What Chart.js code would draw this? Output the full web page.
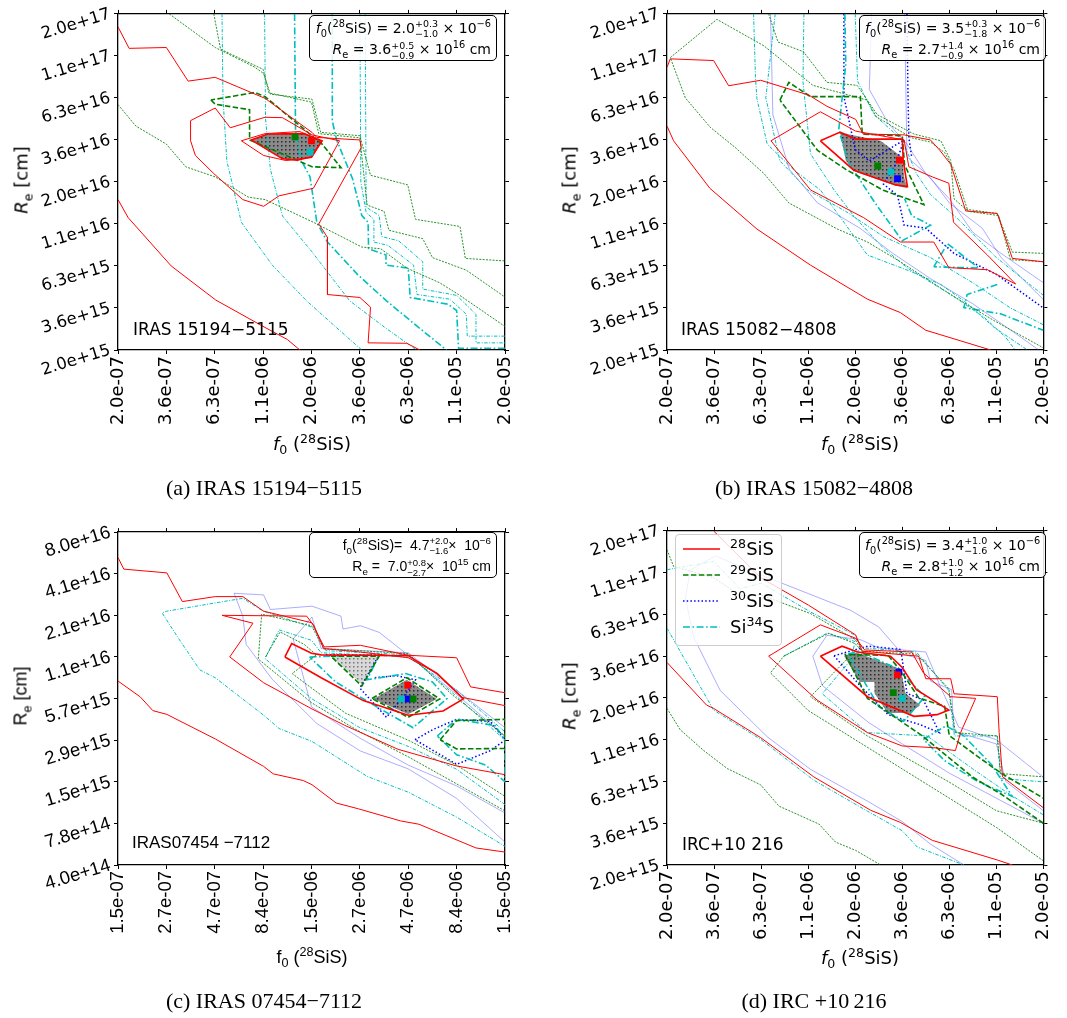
<!DOCTYPE html>
<html>
<head>
<title>SiS chi2 contours</title>
<script src="https://cdn.jsdelivr.net/npm/chart.js"></script>
<style>
    body {
        margin: 0;
        width: 1067px;
        height: 1018px;
        overflow: hidden;
        position: relative;
        background: #ffffff;
        font-family: 'DejaVu Sans', sans-serif;
        color: #000;
    }
    canvas { position: absolute; }
    .ytitle, .xtitle, .caption {
        position: absolute;
        white-space: nowrap;
        font-size: 18px;
    }
    .ytitle { transform: translate(-50%, -50%) rotate(-90deg); }
    .xtitle { transform: translate(-50%, -50%); }
    .caption {
        transform: translate(-50%, -50%);
        font-family: 'Liberation Serif', serif;
        font-size: 22px;
    }
    .note {
        position: absolute;
        box-sizing: border-box;
        border: 1px solid #000;
        border-radius: 5px;
        background: rgba(255,255,255,0.85);
        font-size: 14px;
        line-height: 20px;
        text-align: right;
        padding: 2px 5px 0 5px;
        white-space: nowrap;
    }
    .star {
        position: absolute;
        transform: translateY(-50%);
        font-size: 17px;
        white-space: nowrap;
    }
    .sans { font-family: 'Liberation Sans', Arial, sans-serif; }
    sub, sup { font-size: 0.7em; line-height: 0; }
    .ss {
        display: inline-block;
        vertical-align: -0.45em;
        font-size: 0.68em;
        line-height: 1.05;
        text-align: left;
    }
    .ss span { display: block; }
    .legend {
        position: absolute;
        box-sizing: border-box;
        border: 1px solid #cccccc;
        border-radius: 4px;
        background: rgba(255,255,255,0.8);
        font-size: 18px;
    }
    .legend .row { position: absolute; left: 0; width: 100%; height: 24px; }
    .legend svg { position: absolute; left: 6px; top: 7px; }
    .legend span { position: absolute; right: 7px; top: 0; line-height: 24px; }
</style>
</head>
<body>
<canvas id="panelA" width="530" height="470" style="left:0px;top:0px"></canvas>
<canvas id="panelB" width="518" height="470" style="left:549px;top:0px"></canvas>
<canvas id="panelC" width="530" height="470" style="left:0px;top:517px"></canvas>
<canvas id="panelD" width="518" height="470" style="left:549px;top:517px"></canvas>

<div class="ytitle" style="left:21px;top:180px"><i>R</i><sub>e</sub> [cm]</div>
<div class="ytitle" style="left:569px;top:180px"><i>R</i><sub>e</sub> [cm]</div>
<div class="ytitle sans" style="left:21px;top:696px">R<sub>e</sub> [cm]</div>
<div class="ytitle" style="left:569px;top:696px"><i>R</i><sub>e</sub> [cm]</div>

<div class="xtitle" style="left:312px;top:443px"><i>f</i><sub>0</sub> (<sup>28</sup>SiS)</div>
<div class="xtitle" style="left:860px;top:443px"><i>f</i><sub>0</sub> (<sup>28</sup>SiS)</div>
<div class="xtitle sans" style="left:312px;top:957px">f<sub>0</sub> (<sup>28</sup>SiS)</div>
<div class="xtitle" style="left:860px;top:957px"><i>f</i><sub>0</sub> (<sup>28</sup>SiS)</div>

<div class="note" style="left:309px;top:15px;width:188px;height:46px">
    <i>f</i><sub>0</sub>(<sup>28</sup>SiS) = 2.0<span class="ss"><span>+0.3</span><span>&minus;1.0</span></span> &times; 10<sup>&minus;6</sup><br>
    <i>R</i><sub>e</sub> = 3.6<span class="ss"><span>+0.5</span><span>&minus;0.9</span></span> &times; 10<sup>16</sup> cm
</div>
<div class="note" style="left:859px;top:15px;width:187px;height:46px">
    <i>f</i><sub>0</sub>(<sup>28</sup>SiS) = 3.5<span class="ss"><span>+0.3</span><span>&minus;1.8</span></span> &times; 10<sup>&minus;6</sup><br>
    <i>R</i><sub>e</sub> = 2.7<span class="ss"><span>+1.4</span><span>&minus;0.9</span></span> &times; 10<sup>16</sup> cm
</div>
<div class="note sans" style="left:309px;top:532px;width:188px;height:46px">
    f<sub>0</sub>(<sup>28</sup>SiS)= &nbsp;4.7<span class="ss"><span>+2.0</span><span>&minus;1.6</span></span>&times; &nbsp;10<sup>&minus;6</sup><br>
    R<sub>e</sub> = &nbsp;7.0<span class="ss"><span>+0.8</span><span>&minus;2.7</span></span>&times; &nbsp;10<sup>15</sup> cm
</div>
<div class="note" style="left:859px;top:532px;width:187px;height:46px">
    <i>f</i><sub>0</sub>(<sup>28</sup>SiS) = 3.4<span class="ss"><span>+1.0</span><span>&minus;1.6</span></span> &times; 10<sup>&minus;6</sup><br>
    <i>R</i><sub>e</sub> = 2.8<span class="ss"><span>+1.0</span><span>&minus;1.2</span></span> &times; 10<sup>16</sup> cm
</div>

<div class="star" style="left:133px;top:329px">IRAS 15194&minus;5115</div>
<div class="star" style="left:681px;top:329px">IRAS 15082&minus;4808</div>
<div class="star sans" style="left:132px;top:843px">IRAS07454 &minus;7112</div>
<div class="star" style="left:682px;top:844px">IRC+10 216</div>

<div class="legend" style="left:675px;top:534px;width:107px;height:112px">
    <div class="row" style="top:2px"><svg width="40" height="10"><line x1="1" y1="5" x2="38" y2="5" stroke="#ff0000" stroke-width="1.6"/></svg><span><sup>28</sup>SiS</span></div>
    <div class="row" style="top:28px"><svg width="40" height="10"><line x1="1" y1="5" x2="38" y2="5" stroke="#008000" stroke-width="1.6" stroke-dasharray="5.5 2.4"/></svg><span><sup>29</sup>SiS</span></div>
    <div class="row" style="top:54px"><svg width="40" height="10"><line x1="1" y1="5" x2="38" y2="5" stroke="#0000ff" stroke-width="1.6" stroke-dasharray="1.5 2.2"/></svg><span><sup>30</sup>SiS</span></div>
    <div class="row" style="top:80px"><svg width="40" height="10"><line x1="1" y1="5" x2="38" y2="5" stroke="#00bfbf" stroke-width="1.6" stroke-dasharray="7 2.5 1.6 2.5"/></svg><span>Si<sup>34</sup>S</span></div>
</div>

<div class="caption" style="left:264px;top:488px">(a) IRAS 15194&minus;5115</div>
<div class="caption" style="left:814px;top:488px">(b) IRAS 15082&minus;4808</div>
<div class="caption" style="left:264px;top:1001px">(c) IRAS 07454&minus;7112</div>
<div class="caption" style="left:814px;top:1001px">(d) IRC +10&#8201;216</div>

<script>
// tick labels; contour points are given in tick-index units (0..8) of the log grid
const fTicks = ['2.0e-07', '3.6e-07', '6.3e-07', '1.1e-06', '2.0e-06', '3.6e-06', '6.3e-06', '1.1e-05', '2.0e-05'];
const rTicks = ['2.0e+15', '3.6e+15', '6.3e+15', '1.1e+16', '2.0e+16', '3.6e+16', '6.3e+16', '1.1e+17', '2.0e+17'];
const fTicksC = ['1.5e-07', '2.7e-07', '4.7e-07', '8.4e-07', '1.5e-06', '2.7e-06', '4.7e-06', '8.4e-06', '1.5e-05'];
const rTicksC = ['4.0e+14', '7.8e+14', '1.5e+15', '2.9e+15', '5.7e+15', '1.1e+16', '2.1e+16', '4.1e+16', '8.0e+16'];

// best fits, order: 28SiS, 29SiS, 30SiS, Si34S
const bestA = [[4.0, 4.98], [3.66, 5.07], null, [3.97, 4.71]];
const bestB = [[4.94, 4.52], [4.48, 4.38], [4.9, 4.08], [4.76, 4.24]];
const bestC = [[5.99, 4.32], [6.1, 3.99], [6.0, 3.99], [5.85, 3.99]];
const bestD = [[4.9, 4.55], [4.81, 4.13], [4.93, 4.62], [5.0, 3.99]];

// ---- (a) IRAS 15194-5115
const aGray = [[2.75,5.0],[3.1,5.14],[3.85,5.15],[4.22,4.98],[4.0,4.6],[3.7,4.52],[3.4,4.55],[2.75,5.0]];
const aRed1 = [[0,3.58],[0.21,3.15],[1.1,2.0],[2.02,1.19],[2.97,0.58],[3.5,0.25],[3.76,0]];
const aRed2 = [[0,7.69],[0.23,7.18],[1.0,7.2],[1.45,6.4],[2.01,6.49],[3.04,5.99],[4.01,5.18],[4.11,5.06],[5.0,5.0],[5.03,4.82],[4.15,3.0],[4.33,2.68],[4.33,1.32],[5.0,1.25],[5.22,1.02],[5.17,0.17],[5.97,0.16],[6.24,0]];
const aRed3 = [[1.5,5.46],[2.01,5.76],[2.32,5.29],[3.04,5.54],[3.4,5.53],[4.01,5.12],[4.58,4.98],[4.04,3.85],[3.33,3.67],[3.01,3.42],[2.58,3.58],[1.98,4.2],[1.6,4.63],[1.5,4.98],[1.5,5.46]];
const aRed4 = [[2.55,4.98],[3.01,4.63],[3.47,4.51],[4.01,4.58],[4.2,4.96],[3.76,5.2],[3.04,5.15],[2.55,4.98]];
const aGreenD = [[1.92,5.95],[2.01,5.85],[2.72,5.72],[2.72,5.0],[3.7,4.52],[4.01,4.36],[4.61,4.34],[4.22,4.9],[4.01,5.1],[3.04,6.03],[2.83,6.13],[1.92,5.95]];
const aGreen1 = [[1.06,8],[2.01,7.2],[2.15,7.12],[2.83,6.73],[3.01,6.58],[3.15,6.09],[4.01,5.97],[4.19,5.18],[5.0,5.1],[5.22,4.16],[5.99,3.93],[6.15,3.11],[7.07,2.94],[7.18,2.18],[8,2.12]];
const aGreen2 = [[1.98,8],[2.12,7.16],[3.0,6.68],[3.12,6.12],[4.0,5.9],[4.15,5.15],[5.0,5.05],[5.15,3.45],[5.5,3.3],[5.6,2.85],[6.3,2.65],[6.5,2.2],[7.2,1.9],[8,1.26]];
const aGreen3 = [[0,5.84],[0.37,5.33],[1.0,4.9],[1.4,4.36],[2.01,4.12],[2.69,3.64],[3.04,3.58],[4.04,3.04],[5.04,2.45],[5.43,2.41],[5.97,1.95],[6.65,1.6],[7.04,1.32],[8,0.56]];
const aCyan1 = [[2.15,8],[2.17,6.0],[2.25,4.5],[2.55,3.04],[3.19,2.02],[3.9,1.17],[4.5,0.55],[5.04,0]];
const aCyan2 = [[3.03,8],[3.05,5.5],[3.15,4.3],[3.4,3.19],[4.0,2.35],[4.79,1.17],[5.5,0.55],[6.17,0]];
const aCyan3 = [[3.65,8],[3.67,5.21],[3.79,4.51],[3.97,4.12],[4.11,3.04],[4.33,2.57],[4.95,1.8],[5.55,1.17],[6.2,0.55],[6.79,0]];
const aCyan4 = [[4.43,8],[4.43,5.45],[4.52,5.0],[4.85,4.07],[5.04,3.2],[5.17,3.04],[5.18,2.41],[5.54,2.26],[5.54,2.02],[6.0,1.95],[6.04,1.25],[6.82,1.09],[7.0,0.94],[7.04,0.04],[8,0.04]];
const aCyan5 = [[5.0,8],[5.02,4.0],[5.13,3.27],[5.29,3.11],[5.29,2.57],[5.58,2.49],[6.11,2.02],[6.18,1.32],[6.86,1.21],[7.2,0.85],[7.22,0.33],[8,0.33]];
const aCyan6 = [[5.11,8],[5.13,3.4],[5.4,3.2],[5.45,2.7],[5.8,2.6],[6.3,2.1],[6.3,1.45],[7.0,1.3],[7.4,0.85],[7.4,0.17],[8,0.17]];

// ---- (b) IRAS 15082-4808
const bGray = [[3.67,5.21],[3.83,5.14],[4.54,4.98],[5.0,4.59],[5.04,4.12],[5.11,3.85],[4.82,3.93],[4.01,4.24],[3.8,4.51],[3.67,5.21]];
const bRed1 = [[0,5.33],[0.14,4.98],[0.91,3.85],[1.91,2.88],[3.05,2.02],[4.26,1.21],[4.96,0.89],[5.5,0.47],[6.88,0]];
const bRed2 = [[0,6.73],[0.07,6.93],[0.99,6.89],[1.31,6.29],[1.99,6.42],[3.01,6.07],[3.4,5.8],[4.01,5.49],[4.17,5.14],[5.04,5.12],[5.6,5.0],[5.8,4.75],[6.03,4.42],[6.35,3.31],[7.02,3.25],[7.34,2.18],[8,2.1]];
const bRed3 = [[2.21,4.98],[3.26,5.67],[4.01,5.21],[5.04,5.0],[5.14,4.36],[5.64,4.12],[5.99,3.97],[6.09,3.04],[6.81,2.26],[7.41,1.57],[6.81,1.91],[5.99,1.96],[5.67,2.57],[4.96,2.57],[4.18,3.15],[3.05,3.81],[2.21,4.98]];
const bRed4 = [[3.26,4.98],[3.67,5.18],[4.01,5.02],[5.0,5.02],[5.02,4.51],[5.11,3.89],[4.86,3.93],[3.97,4.28],[3.26,4.98]];
const bGreenD = [[2.4,5.95],[2.59,6.37],[3.05,6.03],[4.11,6.03],[4.15,5.14],[5.0,5.1],[5.05,4.4],[5.46,3.46],[4.6,3.8],[3.8,4.3],[3.2,4.75],[2.4,5.95]];
const bGreen1 = [[8,2.1],[7.3,2.15],[7.05,3.2],[6.4,3.3],[6.1,4.3],[5.9,4.7],[5.6,4.95],[5.2,5.05],[4.45,5.55],[4.25,5.95],[3.1,6.3],[2.06,7.24],[1.06,7.87],[0.07,6.96],[0.39,6.0],[0.92,5.3],[1.45,4.82],[2.06,4.2],[2.59,3.5],[3.62,2.88],[4.26,2.57],[4.96,2.1],[6.03,1.32],[6.95,0.7],[8,0.05]];
const bGreen2 = [[2.16,8],[2.36,7.33],[2.9,7.1],[3.4,6.37],[4.04,6.3],[4.47,5.6],[5.25,5.14],[5.82,4.98],[6.03,4.51],[6.1,3.6],[6.35,3.35],[7.02,3.25],[7.34,2.33],[8,2.3]];
const bCyan1 = [[1.84,8],[1.88,6.5],[1.91,5.99],[2.13,4.9],[2.7,4.28],[3.26,3.81],[3.76,3.04],[4.26,2.26],[5.18,1.87],[5.82,1.56],[6.31,1.17],[6.95,0.54],[7.66,0]];
const bCyan2 = [[2.91,8],[2.89,6.38],[3.05,4.67],[3.55,3.81],[3.97,3.19],[4.54,2.49],[5.11,1.95],[6.03,1.32],[6.74,0.78],[7.2,0.3],[7.4,0]];
const bCyan3 = [[3.78,8],[3.8,6.8],[3.65,5.24],[3.86,4.46],[4.41,3.52],[5.0,2.6],[5.6,2.97],[5.2,3.2],[5.05,3.6]];
const bCyan4 = [[5.67,1.98],[5.96,2.53],[6.63,1.95],[5.67,1.98]];
const bCyan5 = [[7.02,1.56],[6.38,1.32],[6.31,1.01],[7.09,0.86],[8,0.47]];
const bCyan6 = [[4.0,8],[4.05,6.4],[4.4,5.6],[5.0,5.0],[5.3,4.2],[5.6,3.7],[6.2,3.1],[7.0,2.2],[8,1.3]];
const bCyan7 = [[2.3,8],[2.1,6.0],[2.4,4.5],[3.0,3.8],[3.8,3.3],[4.6,2.7],[5.6,2.2],[6.5,1.6],[7.3,1.0],[8,0.6]];
const bBlue1 = [[2.2,8],[2.25,5.6],[2.6,4.3],[3.2,3.5],[4.1,2.9],[4.8,2.3],[5.6,1.7],[6.5,1.1],[7.4,0.4],[7.9,0]];
const bBlue2 = [[5.05,8],[5.1,4.6],[5.6,4.1],[6.0,3.5],[6.7,2.9],[7.1,2.2],[8,1.2]];
const bBlue3 = [[4.35,8],[4.3,6.2],[4.7,5.4],[5.1,4.9],[5.5,4.2],[6.0,3.6],[6.5,2.8],[7.1,2.3],[8,1.6]];
const bBlueD1 = [[3.76,8],[3.76,6.03],[4.0,4.77],[4.3,4.5],[5.04,5.0],[4.85,4.4],[4.6,3.95],[4.9,3.68],[5.04,2.97],[5.5,2.9],[6.1,2.3],[7.0,1.8],[8,1.0]];
const bBlueD2 = [[5.1,8],[5.12,6.2],[5.14,5.06],[5.2,4.6]];

// ---- (c) IRAS 07454-7112
const cGray = [[5.28,3.99],[5.97,4.45],[6.59,3.99],[6.0,3.62],[5.28,3.99]];
const cLight = [[4.42,5.0],[5.38,5.0],[5.04,4.34],[4.42,5.0]];
const cRed1 = [[0,4.42],[0.46,4.04],[0.72,3.71],[1.01,3.62],[2.01,3.03],[3.01,2.37],[3.21,2.19],[3.83,2.03],[4.01,1.93],[4.51,1.49],[4.97,1.35],[5.84,1.06],[6.22,0.98],[7.4,0.41],[8,0.31]];
const cRed2 = [[0,7.39],[0.12,7.11],[1.01,7.02],[1.33,6.33],[2.01,6.45],[2.58,6.45],[3.01,6.1],[4.01,5.82],[4.26,5.24],[5.01,5.28],[6.0,5.04],[7.0,4.98],[7.29,4.28],[8,4.14]];
const cRed3 = [[8,2.17],[7.0,2.38],[5.79,2.78],[4.68,3.36],[4.01,3.75],[3.01,4.38],[2.31,5.0],[2.79,5.81],[2.15,6.0],[3.9,5.98],[4.05,5.75],[4.25,5.2],[5.0,5.12],[6.0,4.98],[6.6,4.6],[7.1,4.03],[8,3.83]];
const cRed4 = [[3.45,5.0],[3.59,5.32],[4.0,5.09],[4.2,5.05],[6.0,5.03],[6.6,4.6],[7.14,3.99],[6.72,3.7],[6.0,3.6],[5.07,3.95],[4.2,4.5],[3.45,5.0]];
const cGreenD1 = [[5.25,4.0],[5.97,4.5],[6.65,3.99],[6.0,3.55],[5.25,4.0]];
const cGreenD2 = [[4.4,5.02],[5.4,5.02],[5.04,4.3],[4.4,5.02]];
const cGreenD3 = [[6.66,3.01],[7.0,3.47],[8,3.5],[8,2.8],[7.0,2.79],[6.66,3.01]];
const cGreen1 = [[2.97,6.03],[2.9,4.95],[4.0,3.9],[5.0,3.2],[6.0,2.6],[7.0,1.95],[8,1.3]];
const cGreen2 = [[3.0,6.02],[4.0,5.75],[4.25,5.2],[6.0,5.08],[6.9,4.1],[8,3.1]];
const cGreen3 = [[3.05,5.0],[3.35,5.6],[3.85,5.3],[4.1,5.05],[3.6,4.6],[4.7,3.65],[6.0,3.0],[7.0,2.4],[8,1.65]];
const cCyan1 = [[8,3.0],[7.0,4.05],[6.0,5.05],[4.3,5.15],[4.05,5.7],[3.0,6.1],[2.58,6.41],[1.01,6.1],[0.91,6.06],[1.26,5.43],[1.69,4.69],[2.01,4.5],[3.01,3.6],[3.33,3.28],[4.01,2.97],[5.15,2.13],[6.0,1.75],[7.0,1.15],[8,0.45]];
const cCyan2 = [[8,1.45],[7.0,2.3],[6.0,2.85],[5.0,3.3],[4.0,4.0],[3.04,4.96],[3.33,5.65],[4.0,5.4],[4.2,5.1],[6.0,5.0],[7.0,4.2],[8,3.2]];
const cCyan3 = [[3.96,5.0],[5.4,5.05],[5.15,4.45],[5.95,4.6],[6.5,4.4],[6.8,4.0],[6.1,3.3],[5.2,3.9],[4.5,4.4],[3.96,5.0]];
const cCyan4 = [[6.6,3.1],[7.0,3.5],[7.8,3.35],[8,3.0],[8,2.0],[7.6,2.4],[7.0,2.65],[6.6,3.1]];
const cBlue1 = [[8,3.09],[7.0,4.1],[6.0,5.04],[5.4,5.59],[5.01,5.75],[4.65,5.67],[4.61,5.98],[4.01,6.22],[3.15,6.14],[3.01,6.49],[2.4,6.53],[2.58,5.98],[2.65,5.3],[3.19,4.46],[4.11,3.4],[5.01,2.74],[6.0,2.31],[7.0,1.6],[8,0.55]];
const cBlue2 = [[8,1.25],[7.0,1.9],[6.0,2.4],[5.0,3.05],[4.0,3.8],[3.62,5.43],[4.01,5.96],[4.2,5.2],[6.0,5.1],[8,3.3]];
const cBlueD1 = [[4.3,5.05],[5.4,5.05],[5.0,4.25],[5.55,3.55],[6.0,4.2],[6.15,4.45],[5.75,4.55],[5.3,4.5]];
const cBlueD2 = [[6.14,3.01],[6.5,3.25],[7.0,3.5],[7.7,3.45],[8,3.0],[7.7,2.75],[7.0,2.42],[6.14,3.01]];

// ---- (d) IRC+10 216
const dGray = [[3.76,5.01],[4.03,5.09],[4.97,4.69],[5.07,4.11],[5.38,3.83],[5.17,3.64],[4.69,3.64],[4.41,4.11],[4.41,4.38],[4.1,4.38],[3.76,5.01]];
const dRed1 = [[0,4.85],[0.84,3.83],[0.99,3.75],[1.99,3.05],[3.12,2.11],[4.33,1.31],[4.96,1.02],[5.64,0.59],[7.02,0.12],[7.34,0]];
const dRed2 = [[0.99,8],[1.99,6.88],[3.01,6.22],[4.01,5.51],[4.15,5.12],[5.35,5.0],[5.5,4.46],[6.03,4.46],[6.1,4.1],[7.02,4.03],[7.06,3.17],[7.13,2.11],[8,1.37]];
const dRed3 = [[2.16,5.0],[3.26,5.75],[4.01,5.43],[4.2,5.15],[5.2,5.1],[5.45,4.6],[6.03,4.03],[6.56,3.99],[6.24,3.17],[6.13,2.74],[5.67,2.81],[5.0,2.85],[4.26,3.17],[3.19,3.95],[2.16,5.0]];
const dRed4 = [[3.26,5.0],[3.72,5.24],[4.05,5.1],[4.75,5.0],[5.0,4.73],[5.3,4.2],[5.99,3.71],[5.74,3.6],[5.25,3.56],[4.26,4.03],[3.26,5.0]];
const dGreen1 = [[0,3.75],[0.28,3.24],[0.78,2.74],[1.28,2.31],[1.99,1.92],[2.38,1.41],[3.23,0.98],[3.58,0.55],[4.01,0.35],[4.54,0]];
const dGreen2 = [[0,7.55],[0.14,7.15],[0.99,6.88],[1.56,6.45],[1.99,6.47],[3.05,6.02],[4.0,5.4],[4.15,5.12],[5.3,5.05],[5.99,4.22],[6.13,3.17],[7.02,3.09],[7.09,2.19],[8,2.11]];
const dGreen3 = [[2.48,5.0],[3.44,5.55],[4.0,5.3],[4.2,5.05],[3.8,4.9],[3.05,4.03],[4.26,3.09],[5.0,2.62],[5.99,1.99],[7.0,1.3],[8,1.0]];
const dGreen4 = [[8,0.1],[7.0,0.9],[6.0,1.6],[5.0,2.3],[4.0,3.0],[3.0,3.7],[2.2,4.6],[2.48,5.0]];
const dGreenD = [[8,1.0],[7.1,1.7],[6.5,2.1],[5.43,3.09],[4.26,3.99],[3.79,5.04],[4.7,5.02],[5.0,4.6],[5.35,4.0],[5.9,3.8],[6.0,3.1],[6.6,2.6],[7.1,2.2],[8,1.6]];
const dCyan1 = [[0,7.07],[0.99,7.27],[1.56,6.61],[2.0,6.75],[3.05,6.06],[4.0,5.5],[4.15,5.2],[5.3,5.1],[5.99,4.18],[6.11,3.09],[7.02,3.09],[7.09,2.07],[8,1.99]];
const dCyan2 = [[0,5.67],[0.99,3.71],[1.99,3.01],[3.12,2.03],[4.26,1.29],[5.0,0.82],[5.32,0.43],[6.31,0]];
const dCyan3 = [[2.48,5.0],[3.4,5.55],[4.0,5.35],[3.9,4.9],[3.3,4.1],[4.26,3.17],[5.53,3.09],[6.5,2.3],[7.3,1.68],[8,1.2]];
const dCyan4 = [[3.85,5.05],[4.07,5.12],[4.9,4.7],[5.48,4.03],[5.03,3.44],[4.5,3.8],[3.85,5.05]];
const dCyan5 = [[5.45,3.01],[5.93,3.33],[6.3,3.1],[6.9,2.4],[7.34,1.64],[6.6,2.0],[5.9,2.5],[5.45,3.01]];
const dBlue1 = [[8,1.3],[7.2,2.0],[7.0,2.9],[6.1,3.2],[6.05,4.2],[5.6,4.4],[5.5,4.9],[5.0,5.05],[4.5,5.7],[3.9,6.1],[3.0,6.5],[2.1,6.9],[1.03,7.4],[0.5,7.07],[0.39,6.4],[0.57,5.45],[1.13,4.18],[2.13,3.07],[3.05,2.29],[4.26,1.53],[5.0,1.04],[5.6,0.5],[6.31,0]];
const dBlue2 = [[8,1.0],[7.0,1.6],[6.0,2.2],[5.0,2.9],[4.3,3.4],[3.3,4.3],[3.1,5.0],[3.4,5.5],[4.1,5.4],[4.5,5.2],[5.5,5.1],[5.8,4.3],[6.2,3.3],[7.0,3.0],[8,2.1]];
const dBlueD = [[3.55,5.01],[4.27,5.24],[4.97,5.16],[5.1,4.11],[5.45,3.95],[5.79,3.17],[5.38,3.36],[4.7,3.6],[4.1,4.3],[3.55,5.01]];

const lineStyles = {
    r1: {borderColor: '#ff0000', borderWidth: 1.6, borderDash: []},
    r0: {borderColor: '#ff0000', borderWidth: 1.0, borderDash: []},
    g1: {borderColor: '#008000', borderWidth: 1.6, borderDash: [5.5, 2.4]},
    g0: {borderColor: 'rgba(0,128,0,0.85)', borderWidth: 1.0, borderDash: [2, 1.3]},
    b1: {borderColor: '#0000ff', borderWidth: 1.5, borderDash: [1.5, 2.2]},
    b0: {borderColor: 'rgba(70,70,255,0.45)', borderWidth: 1.0, borderDash: []},
    c1: {borderColor: '#00bfbf', borderWidth: 1.6, borderDash: [7, 2.5, 1.6, 2.5]},
    c0: {borderColor: '#00bfbf', borderWidth: 1.0, borderDash: [3.5, 1.5, 1, 1.5]}
};
const bestColors = ['#ff0000', '#008000', '#0000ff', '#00bfbf'];

function toXY(arr) {
    return arr.map(p => ({x: p[0], y: p[1]}));
}

function dotPattern(ctx, bg, dot) {
    const tile = document.createElement('canvas');
    tile.width = 4; tile.height = 4;
    const t = tile.getContext('2d');
    t.fillStyle = bg; t.fillRect(0, 0, 4, 4);
    t.fillStyle = dot; t.fillRect(1, 1, 1.5, 1.5);
    return ctx.createPattern(tile, 'repeat');
}

function makePanel(id, xTicks, yTicks, fonts, box, fills, lines, best) {
    const canvas = document.getElementById(id);
    const ctx = canvas.getContext('2d');
    const datasets = [];

    best.forEach((p, i) => {
        if (!p) return;
        datasets.push({data: toXY([p]), pointStyle: 'rect', pointRadius: 4.8, pointBackgroundColor: bestColors[i],
            pointBorderWidth: 0, showLine: false, order: 0});
    });
    lines.forEach(([key, arr]) => {
        datasets.push(Object.assign({data: toXY(arr), showLine: true, pointRadius: 0, fill: false,
            tension: 0, order: 1}, lineStyles[key]));
    });
    fills.forEach(([arr, bg, dot]) => {
        datasets.push({data: toXY(arr), showLine: true, pointRadius: 0, borderWidth: 0,
            fill: 'shape', backgroundColor: dotPattern(ctx, bg, dot), order: 2});
    });

    const grid = {drawOnChartArea: false, drawTicks: true, tickLength: 4, tickColor: '#000', tickWidth: 1};
    const border = {color: '#000', width: 1.3};
    const W = canvas.width, H = canvas.height;

    new Chart(ctx, {
        type: 'scatter',
        data: {datasets: datasets},
        options: {
            responsive: false,
            animation: false,
            layout: {padding: 0},
            plugins: {legend: {display: false}, tooltip: {enabled: false}},
            scales: {
                x: {type: 'linear', position: 'bottom', min: 0, max: 8, grid: grid, border: border,
                    ticks: {stepSize: 1, autoSkip: false, minRotation: 90, maxRotation: 90, padding: 2,
                        color: '#000', font: fonts.x, callback: v => xTicks[v]},
                    afterFit: s => { s.height = H - box.bottom; }},
                xTop: {type: 'linear', axis: 'x', position: 'top', min: 0, max: 8, grid: grid, border: border,
                    ticks: {stepSize: 1, display: false},
                    afterFit: s => { s.height = box.top; }},
                y: {type: 'linear', position: 'left', min: 0, max: 8, grid: grid, border: border,
                    ticks: {stepSize: 1, autoSkip: false, minRotation: 17, maxRotation: 17, padding: 4,
                        color: '#000', font: fonts.y, callback: v => yTicks[v]},
                    afterFit: s => { s.width = box.left; }},
                yRight: {type: 'linear', axis: 'y', position: 'right', min: 0, max: 8, grid: grid, border: border,
                    ticks: {stepSize: 1, display: false},
                    afterFit: s => { s.width = W - box.right; }}
            }
        }
    });
}

const gray = ['#8a8a8a', '#2a2a2a'];
const light = ['#d8d8d8', '#777777'];
const dejavu = {x: {family: 'DejaVu Sans', size: 18}, y: {family: 'DejaVu Sans', size: 16.5}};
const arial = {x: {family: 'Liberation Sans', size: 18.5}, y: {family: 'Liberation Sans', size: 18.5}};

makePanel('panelA', fTicks, rTicks, dejavu, {left: 118, right: 505, top: 9, bottom: 350},
    [[aGray, ...gray]],
    [['r0', aRed1], ['r0', aRed2], ['r0', aRed3], ['r0', aRed4], ['r1', aGray], ['g1', aGreenD],
     ['g0', aGreen1], ['g0', aGreen2], ['g0', aGreen3], ['c0', aCyan1], ['c0', aCyan2], ['c1', aCyan3],
     ['c1', aCyan4], ['c0', aCyan5], ['c0', aCyan6]],
    bestA);

makePanel('panelB', fTicks, rTicks, dejavu, {left: 118, right: 504, top: 9, bottom: 350},
    [[bGray, ...gray]],
    [['r0', bRed1], ['r0', bRed2], ['r0', bRed3], ['r1', bRed4], ['g1', bGreenD], ['g0', bGreen1],
     ['g0', bGreen2], ['c0', bCyan1], ['c0', bCyan2], ['c1', bCyan3], ['c1', bCyan4], ['c1', bCyan5],
     ['c0', bCyan6], ['c0', bCyan7], ['b0', bBlue1], ['b0', bBlue2], ['b0', bBlue3], ['b1', bBlueD1],
     ['b1', bBlueD2]],
    bestB);

makePanel('panelC', fTicksC, rTicksC, arial, {left: 118, right: 505, top: 9, bottom: 348},
    [[cGray, ...gray], [cLight, ...light]],
    [['r0', cRed1], ['r0', cRed2], ['r0', cRed3], ['r1', cRed4], ['g1', cGreenD1], ['g1', cGreenD2],
     ['g1', cGreenD3], ['g0', cGreen1], ['g0', cGreen2], ['g0', cGreen3], ['c0', cCyan1], ['c0', cCyan2],
     ['c1', cCyan3], ['c1', cCyan4], ['b0', cBlue1], ['b0', cBlue2], ['b1', cBlueD1], ['b1', cBlueD2]],
    bestC);

makePanel('panelD', fTicks, rTicks, dejavu, {left: 118, right: 504, top: 9, bottom: 348},
    [[dGray, ...gray]],
    [['r0', dRed1], ['r0', dRed2], ['r0', dRed3], ['r1', dRed4], ['g0', dGreen1], ['g0', dGreen2],
     ['g0', dGreen3], ['g0', dGreen4], ['g1', dGreenD], ['c0', dCyan1], ['c0', dCyan2], ['c0', dCyan3],
     ['c1', dCyan4], ['c1', dCyan5], ['b0', dBlue1], ['b0', dBlue2], ['b1', dBlueD]],
    bestD);
</script>
</body>
</html>
